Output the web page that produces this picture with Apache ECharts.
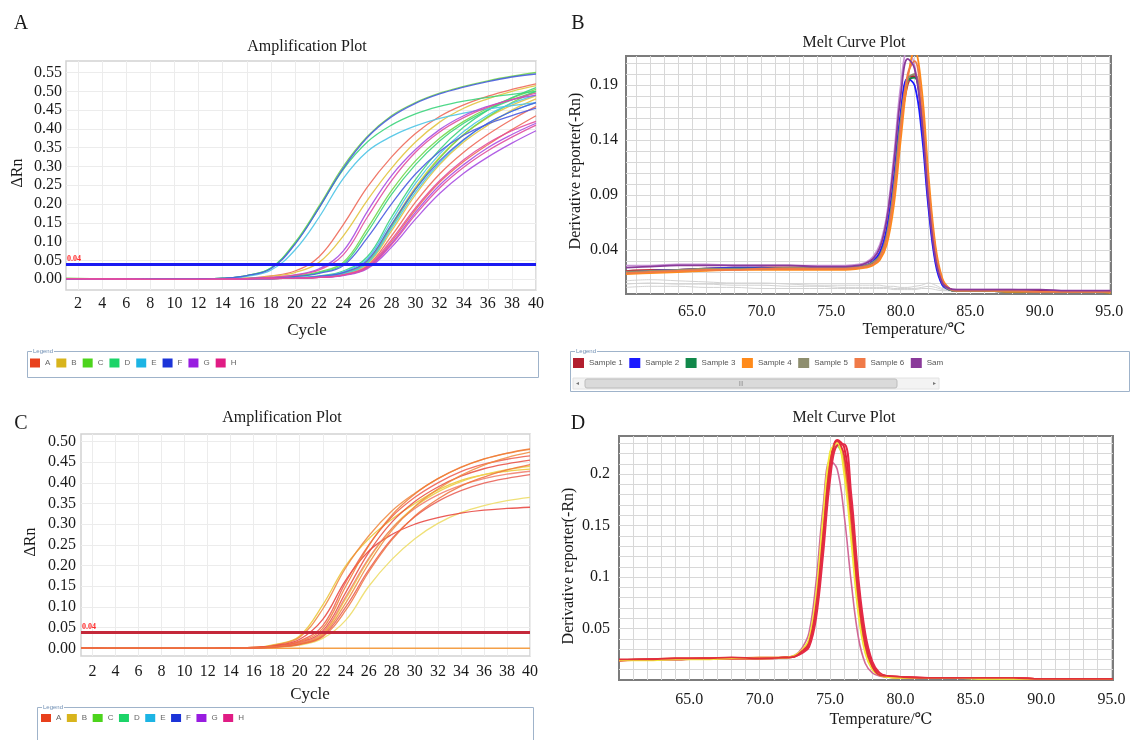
<!DOCTYPE html>
<html>
<head>
<meta charset="utf-8">
<title>Amplification and melt curve plots</title>
<script src="https://cdn.jsdelivr.net/npm/echarts@6/dist/echarts.min.js"></script>
<style>
  html, body { margin: 0; padding: 0; background: #fff; }
  #chart { width: 1131px; height: 740px; }
</style>
</head>
<body>
<div id="chart"></div>
<script>
// ---- data ----
const CYCLES = [1, 4, 8, 12, 14, 16, 18, 20, 22, 24, 26, 28, 30, 32, 34, 36, 38, 40];
const CYCLE_LABELS = [2, 4, 6, 8, 10, 12, 14, 16, 18, 20, 22, 24, 26, 28, 30, 32, 34, 36, 38, 40];
const DRN_LABELS_A = [0, 0.05, 0.1, 0.15, 0.2, 0.25, 0.3, 0.35, 0.4, 0.45, 0.5, 0.55];
const DRN_LABELS_C = [0, 0.05, 0.1, 0.15, 0.2, 0.25, 0.3, 0.35, 0.4, 0.45, 0.5];
const TEMP_LABELS = [65, 70, 75, 80, 85, 90, 95];
const DERIV_LABELS_B = [0.04, 0.09, 0.14, 0.19];
const DERIV_LABELS_D = [0.05, 0.1, 0.15, 0.2];
const THRESHOLD_A = 0.04;
const THRESHOLD_C = 0.04;
const WELLS = ['A', 'B', 'C', 'D', 'E', 'F', 'G', 'H'];
const SAMPLES = ['Sample 1', 'Sample 2', 'Sample 3', 'Sample 4', 'Sample 5', 'Sample 6', 'Sample 7'];

// panel A: delta Rn per well, three wells for each letter, read at CYCLES
const A_WELL_A = [
  [.002, .001, .000, .000, .001, .003, .009, .022, .060, .145, .245, .325, .388, .433, .464, .487, .505, .520],
  [.002, .001, .000, .000, .000, .001, .002, .003, .006, .013, .036, .115, .205, .280, .338, .385, .425, .460],
  [.002, .001, .000, .000, .000, .001, .002, .003, .005, .012, .032, .100, .185, .258, .313, .358, .398, .435]
];
const A_WELL_B = [
  [.002, .001, .000, .000, .001, .003, .008, .018, .045, .115, .210, .295, .365, .418, .455, .480, .500, .515],
  [.002, .001, .000, .000, .000, .001, .002, .003, .007, .017, .048, .145, .245, .325, .385, .430, .463, .488],
  [.002, .001, .000, .000, .000, .001, .002, .003, .006, .014, .040, .128, .225, .305, .365, .410, .450, .480]
];
const A_WELL_C = [
  [.003, .001, .000, .001, .003, .010, .030, .098, .195, .300, .380, .435, .470, .495, .513, .528, .540, .550],
  [.002, .001, .000, .000, .000, .002, .004, .009, .020, .045, .135, .235, .315, .375, .420, .455, .482, .505],
  [.002, .001, .000, .000, .000, .001, .002, .003, .007, .016, .045, .140, .240, .322, .385, .432, .470, .500]
];
const A_WELL_D = [
  [.002, .001, .000, .001, .003, .010, .030, .095, .190, .292, .365, .410, .440, .460, .474, .484, .492, .500],
  [.002, .001, .000, .000, .000, .002, .004, .008, .018, .040, .125, .225, .305, .368, .415, .450, .477, .500],
  [.002, .001, .000, .000, .000, .001, .002, .004, .009, .022, .060, .165, .265, .345, .405, .450, .483, .510]
];
const A_WELL_E = [
  [.002, .001, .000, .001, .002, .008, .024, .078, .165, .268, .340, .380, .408, .428, .442, .453, .462, .470],
  [.002, .001, .000, .000, .000, .001, .002, .004, .008, .020, .055, .155, .255, .333, .393, .437, .468, .490],
  [.002, .001, .000, .000, .000, .001, .002, .003, .007, .015, .043, .135, .232, .310, .370, .415, .447, .470]
];
const A_WELL_F = [
  [.002, .001, .000, .001, .003, .010, .028, .093, .190, .295, .377, .432, .468, .493, .511, .526, .538, .546],
  [.002, .001, .000, .000, .000, .002, .004, .007, .016, .036, .110, .200, .280, .340, .383, .413, .435, .455],
  [.002, .001, .000, .000, .000, .001, .002, .003, .008, .018, .050, .145, .240, .315, .372, .415, .447, .470]
];
const A_WELL_G = [
  [.002, .001, .000, .000, .001, .002, .005, .012, .028, .075, .180, .275, .345, .398, .435, .460, .478, .490],
  [.002, .001, .000, .000, .000, .001, .002, .003, .005, .011, .031, .095, .178, .250, .305, .350, .385, .415],
  [.002, .001, .000, .000, .000, .001, .002, .003, .005, .010, .028, .085, .160, .228, .282, .325, .362, .395]
];
const A_WELL_H = [
  [.002, .001, .000, .000, .001, .002, .005, .011, .025, .065, .165, .262, .338, .392, .430, .458, .478, .495],
  [.002, .001, .000, .000, .000, .001, .002, .003, .005, .012, .034, .105, .190, .262, .318, .362, .395, .420],
  [.002, .001, .000, .000, .000, .001, .002, .003, .005, .011, .030, .092, .172, .243, .298, .342, .378, .410]
];

// panel C: delta Rn, wells A (red/orange) and B (yellow), read at CYCLES
const C_WELL_A = [
  [.001, .000, .000, .000, .001, .002, .009, .027, .095, .195, .272, .332, .375, .410, .437, .457, .471, .481],
  [.001, .000, .000, .000, .001, .002, .007, .022, .070, .165, .235, .275, .300, .316, .327, .334, .338, .341],
  [.001, .000, .000, .000, .001, .002, .006, .018, .055, .160, .250, .318, .365, .400, .427, .445, .457, .465],
  [.001, .000, .000, .000, .001, .001, .005, .016, .048, .150, .248, .322, .373, .410, .438, .458, .472, .482],
  [.001, .000, .000, .000, .000, .001, .005, .014, .042, .135, .232, .305, .355, .390, .416, .434, .446, .455],
  [.001, .000, .000, .000, .000, .001, .004, .013, .038, .125, .218, .290, .338, .371, .394, .410, .421, .428],
  [.001, .000, .000, .000, .000, .001, .004, .011, .033, .110, .205, .285, .343, .385, .418, .443, .461, .474],
  [.001, .000, .000, .000, .000, .001, .003, .010, .030, .100, .190, .265, .318, .355, .381, .399, .411, .420],
  [.001, .000, .000, .000, .000, .001, .003, .009, .028, .092, .185, .262, .320, .361, .392, .414, .431, .444]
];
const C_WELL_B = [
  [.001, .000, .000, .000, .001, .002, .010, .030, .105, .200, .265, .312, .350, .383, .406, .420, .428, .433],
  [.001, .000, .000, .000, .000, .001, .004, .012, .036, .120, .215, .290, .342, .378, .403, .420, .432, .440],
  [.001, .000, .000, .000, .000, .001, .003, .008, .024, .068, .150, .215, .265, .302, .328, .345, .357, .365]
];
const C_NTC = [.001, .000, .000, .000, .000, .000, .000, .000, .000, .000, .000, .000, .000, .000, .000, .000, .000, .000];

// panel B: derivative reporter, read at TEMPS_B
const TEMPS_B = [60.25, 62, 64, 66, 68, 70, 72, 74, 76, 77, 77.5, 78, 78.5, 79, 79.5, 80, 80.5, 81, 81.5, 82, 82.5, 83, 83.5, 84, 86, 88, 90, 92, 94, 95.1];
const B_SAMPLE_1 = [.020, .021, .022, .023, .023, .024, .024, .024, .024, .025, .026, .029, .036, .056, .100, .160, .197, .198, .160, .088, .034, .010, .004, .003, .003, .003, .003, .002, .002, .002];
const B_SAMPLE_2 = [.019, .021, .022, .023, .024, .024, .023, .024, .024, .025, .026, .030, .038, .060, .105, .165, .196, .190, .148, .078, .028, .008, .004, .003, .003, .002, .002, .002, .002, .002];
const B_SAMPLE_3 = [.019, .020, .021, .022, .023, .023, .023, .023, .023, .024, .025, .028, .034, .052, .094, .155, .194, .197, .162, .090, .036, .011, .004, .003, .003, .002, .002, .002, .002, .001];
const B_SAMPLE_4 = [.018, .019, .020, .021, .022, .022, .022, .022, .022, .023, .024, .026, .031, .045, .080, .140, .195, .222, .188, .108, .044, .014, .005, .003, .003, .002, .002, .002, .002, .001];
const B_SAMPLE_5 = [.020, .021, .022, .023, .023, .023, .024, .024, .024, .025, .026, .029, .035, .054, .097, .158, .196, .200, .163, .090, .035, .010, .004, .003, .003, .003, .002, .002, .002, .002];
const B_SAMPLE_6 = [.019, .020, .021, .022, .022, .023, .023, .023, .023, .024, .025, .027, .033, .050, .090, .150, .200, .212, .175, .098, .040, .012, .005, .003, .003, .003, .002, .002, .002, .002];
const B_SAMPLE_7 = [.024, .025, .026, .026, .026, .026, .026, .025, .025, .026, .028, .032, .042, .068, .118, .180, .214, .205, .160, .085, .032, .010, .005, .004, .004, .004, .004, .003, .003, .003];
const B_SAMPLE_8 = [.026, .026, .027, .027, .026, .026, .026, .026, .026, .027, .029, .034, .045, .072, .125, .190, .222, .208, .158, .080, .030, .009, .005, .004, .004, .004, .003, .003, .003, .003];
const B_SAMPLE_9 = [.021, .022, .022, .023, .024, .024, .024, .024, .024, .025, .026, .028, .034, .052, .092, .150, .190, .200, .170, .100, .040, .012, .005, .003, .003, .003, .002, .002, .002, .002];
const B_EMPTY_1 = [.012, .013, .012, .011, .010, .010, .009, .008, .008, .008, .008, .008, .008, .007, .007, .006, .006, .007, .008, .010, .008, .005, .004, .004, .004, .004, .003, .003, .003, .003];
const B_EMPTY_2 = [.009, .010, .009, .009, .008, .008, .007, .007, .006, .006, .006, .006, .006, .006, .005, .005, .005, .005, .006, .007, .006, .004, .003, .003, .003, .003, .003, .003, .003, .002];
const B_EMPTY_3 = [.006, .007, .007, .006, .006, .005, .005, .005, .005, .005, .005, .005, .005, .005, .004, .004, .004, .004, .005, .005, .004, .003, .003, .003, .003, .003, .002, .002, .002, .002];

// panel D: derivative reporter, read at TEMPS_D
const TEMPS_D = [60, 62, 64, 66, 68, 70, 72, 72.5, 73, 73.5, 74, 74.5, 75, 75.5, 76, 76.5, 77, 77.5, 78, 78.5, 79, 80, 82, 84, 86, 88, 90, 92, 94, 95.1];
const D_MAUVE = [.019, .020, .020, .021, .021, .021, .022, .024, .031, .046, .095, .168, .213, .205, .160, .095, .042, .016, .007, .004, .003, .002, .002, .002, .002, .001, .001, .001, .001, .001];
const D_YELLOW = [.019, .019, .020, .020, .021, .021, .022, .024, .029, .040, .082, .158, .222, .230, .200, .135, .065, .026, .010, .005, .003, .002, .002, .002, .001, .001, .001, .001, .001, .001];
const D_GREEN = [.019, .020, .020, .021, .021, .021, .022, .023, .028, .037, .074, .145, .210, .227, .212, .152, .076, .031, .012, .005, .003, .002, .002, .002, .001, .001, .001, .001, .001, .001];
const D_ORANGE = [.019, .020, .021, .021, .021, .022, .022, .023, .028, .038, .078, .150, .215, .230, .208, .145, .070, .028, .011, .005, .003, .002, .002, .002, .002, .002, .001, .001, .001, .001];
const D_RED_1 = [.019, .020, .020, .021, .021, .021, .022, .023, .027, .034, .066, .132, .205, .233, .226, .172, .092, .040, .016, .006, .004, .003, .002, .002, .002, .002, .001, .001, .001, .001];
const D_RED_2 = [.019, .020, .021, .021, .021, .021, .022, .023, .026, .032, .060, .122, .195, .228, .229, .180, .100, .045, .018, .007, .004, .003, .002, .002, .002, .002, .001, .001, .001, .001];
const D_RED_3 = [.020, .020, .021, .021, .022, .021, .022, .023, .028, .036, .072, .140, .210, .232, .218, .160, .082, .034, .013, .005, .004, .003, .002, .002, .002, .002, .001, .001, .001, .001];

// ---- styling ----
const FONT = "'Liberation Serif', 'DejaVu Serif', 'Noto Sans CJK SC', serif";
const SMALL_FONT = "'Liberation Sans', 'DejaVu Sans', sans-serif";
const WELL_LINE = ['#ee6a5a', '#e2c440', '#72d84a', '#3cd47c', '#4cc4e6', '#4a5ce0', '#a84ee2', '#e24e9e'];
const WELL_KEY = ['#e8401c', '#d8b41c', '#4cd41c', '#1cd468', '#1cb4e4', '#1c34d8', '#981ce0', '#e01c84'];
const SAMPLE_COLORS = ['#b21e2e', '#1a1aff', '#11884a', '#ff8a1a', '#8e8e6e', '#f07a48', '#8a3a9a'];

function curve(name, xs, ys, color, idx, width, opacity) {
  return {
    type: 'line', name: name, xAxisIndex: idx, yAxisIndex: idx,
    data: xs.map((x, i) => [x, ys[i]]),
    showSymbol: false, symbol: 'none', smooth: 0.4,
    lineStyle: { color: color, width: width, opacity: opacity },
    itemStyle: { color: color },
    silent: true, animation: false
  };
}

function axis(gridIndex, min, max, gridAt, labelsAt, fmt, margin, splitColor) {
  return {
    type: 'value', gridIndex: gridIndex, min: min, max: max,
    axisLine: { show: false },
    axisTick: { show: false, customValues: gridAt },
    axisLabel: { customValues: labelsAt, formatter: fmt, margin: margin,
      fontFamily: FONT, fontSize: 16, color: '#1a1a1a' },
    splitLine: { show: true, lineStyle: { color: splitColor, width: 1 } }
  };
}

// grid-only ticks (no labels) for the melt plots
const TEMP_GRID = [];
for (let t = 61; t <= 95; t++) TEMP_GRID.push(t);
const DERIV_GRID_B = [];
for (let v = 1; v <= 21; v++) DERIV_GRID_B.push(v / 100);
const DERIV_GRID_D = [];
for (let v = 1; v <= 23; v++) DERIV_GRID_D.push(v / 100);

const fix2 = v => v.toFixed(2);
const fix1 = v => v.toFixed(1);
const plain = v => String(v);
const short = v => String(+v.toFixed(2));

const series = [];

// panel A curves
const wellsA = [A_WELL_A, A_WELL_B, A_WELL_C, A_WELL_D, A_WELL_E, A_WELL_F, A_WELL_G, A_WELL_H];
wellsA.forEach((rows, w) => {
  rows.forEach(ys => series.push(curve(WELLS[w], CYCLES, ys, WELL_LINE[w], 0, 1.3, 0.9)));
});
series.push({
  type: 'line', name: 'threshold A', xAxisIndex: 0, yAxisIndex: 0, data: [], z: 10,
  markLine: {
    silent: true, symbol: 'none', animation: false,
    data: [{ yAxis: THRESHOLD_A }],
    lineStyle: { color: '#1a1af2', width: 3, type: 'solid' },
    label: { show: true, position: 'insideStartTop', formatter: THRESHOLD_A.toFixed(2),
      distance: 1, color: '#ff2a2a', fontSize: 8, fontWeight: 'bold', fontFamily: FONT }
  }
});

// panel B curves
[B_EMPTY_1, B_EMPTY_2, B_EMPTY_3].forEach((ys, i) =>
  series.push(curve('empty ' + (i + 1), TEMPS_B, ys, '#d2d2d2', 1, 1, 1)));
series.push(curve('Sample 8', TEMPS_B, B_SAMPLE_8, '#c894d6', 1, 1.6, 1));
series.push(curve('Sample 9', TEMPS_B, B_SAMPLE_9, '#c03a44', 1, 1.6, 1));
[B_SAMPLE_1, B_SAMPLE_2, B_SAMPLE_3, B_SAMPLE_4, B_SAMPLE_5, B_SAMPLE_6, B_SAMPLE_7].forEach((ys, i) =>
  series.push(curve(SAMPLES[i], TEMPS_B, ys, SAMPLE_COLORS[i], 1, 1.8, 1)));

// panel C curves
series.push(curve('NTC', CYCLES, C_NTC, '#f4a048', 2, 1.6, 1));
const C_A_COLORS = ['#f0863c', '#e8403a', '#ee5a4a', '#f07a34', '#e84a40', '#f07a6a', '#f08a3c', '#e85a50', '#f0703c'];
const C_B_COLORS = ['#eccb48', '#eed050', '#eede70'];
C_WELL_B.forEach((ys, i) => series.push(curve('B', CYCLES, ys, C_B_COLORS[i], 2, 1.3, 0.95)));
C_WELL_A.forEach((ys, i) => series.push(curve('A', CYCLES, ys, C_A_COLORS[i], 2, 1.3, 0.85)));
series.push({
  type: 'line', name: 'threshold C', xAxisIndex: 2, yAxisIndex: 2, data: [], z: 10,
  markLine: {
    silent: true, symbol: 'none', animation: false,
    data: [{ yAxis: THRESHOLD_C }],
    lineStyle: { color: '#c4283a', width: 3, type: 'solid' },
    label: { show: true, position: 'insideStartTop', formatter: THRESHOLD_C.toFixed(2),
      distance: 1, color: '#ff2a2a', fontSize: 8, fontWeight: 'bold', fontFamily: FONT }
  }
});

// panel D curves
series.push(curve('D mauve', TEMPS_D, D_MAUVE, '#d06a98', 3, 1.6, 1));
series.push(curve('D green', TEMPS_D, D_GREEN, '#a8d860', 3, 1.8, 1));
series.push(curve('D orange', TEMPS_D, D_ORANGE, '#f08a30', 3, 1.8, 1));
series.push(curve('D red 1', TEMPS_D, D_RED_1, '#e8203c', 3, 2, 1));
series.push(curve('D red 2', TEMPS_D, D_RED_2, '#e42a48', 3, 2, 1));
series.push(curve('D yellow', TEMPS_D, D_YELLOW, '#f2ea3a', 3, 1.8, 1));
series.push(curve('D red 3', TEMPS_D, D_RED_3, '#e0303a', 3, 1.8, 1));

function label(text, x, y, size, rotate) {
  return {
    type: 'text', x: x, y: y, rotation: rotate ? Math.PI / 2 : 0, silent: true,
    style: { text: text, fontFamily: FONT, fontSize: size, fill: '#1a1a1a',
      align: 'center', verticalAlign: 'middle', textAlign: 'center', textVerticalAlign: 'middle' }
  };
}
function box(x, y, w, h) {
  return { type: 'rect', silent: true, shape: { x: x, y: y, width: w, height: h },
    style: { fill: 'none', stroke: '#9fb3ca', lineWidth: 1 } };
}
function caption(x, y) {
  return { type: 'text', x: x, y: y, silent: true,
    style: { text: 'Legend', fontFamily: SMALL_FONT, fontSize: 6, fill: '#6f8fb4',
      backgroundColor: '#fff', padding: [0, 1], verticalAlign: 'middle', textVerticalAlign: 'middle' } };
}

const option = {
  animation: false,
  backgroundColor: '#fff',
  textStyle: { fontFamily: FONT },
  grid: [
    { left: 66, top: 61, width: 470, height: 229, show: true, borderColor: '#d2d2d2', borderWidth: 1.5 },
    { left: 626, top: 56, width: 485, height: 238, show: true, borderColor: '#7c7c7c', borderWidth: 2 },
    { left: 81, top: 434, width: 449, height: 222, show: true, borderColor: '#d2d2d2', borderWidth: 1.5 },
    { left: 619, top: 436, width: 494, height: 244, show: true, borderColor: '#7c7c7c', borderWidth: 2 }
  ],
  xAxis: [
    axis(0, 1, 40, CYCLE_LABELS, CYCLE_LABELS, plain, 6, '#ececec'),
    axis(1, 60.25, 95.12, TEMP_GRID, TEMP_LABELS, fix1, 10, '#d8d8d8'),
    axis(2, 1, 40, CYCLE_LABELS, CYCLE_LABELS, plain, 8, '#ececec'),
    axis(3, 60, 95.1, TEMP_GRID, TEMP_LABELS, fix1, 12, '#d8d8d8')
  ],
  yAxis: [
    axis(0, -0.0285, 0.5806, DRN_LABELS_A, DRN_LABELS_A, fix2, 4, '#ececec'),
    axis(1, 0, 0.2166, DERIV_GRID_B, DERIV_LABELS_B, fix2, 8, '#d8d8d8'),
    axis(2, -0.0186, 0.518, DRN_LABELS_C, DRN_LABELS_C, fix2, 5, '#ececec'),
    axis(3, 0, 0.237, DERIV_GRID_D, DERIV_LABELS_D, short, 9, '#d8d8d8')
  ],
  legend: [
    { data: WELLS.map((w, i) => ({ name: w, itemStyle: { color: WELL_KEY[i] } })),
      left: 30, top: 358.5, padding: 0, itemWidth: 10, itemHeight: 9, itemGap: 6, icon: 'rect',
      selectedMode: false, textStyle: { fontSize: 8, color: '#666', fontFamily: SMALL_FONT } },
    { data: SAMPLES.map((s, i) => ({ name: s, itemStyle: { color: SAMPLE_COLORS[i] } })),
      left: 573, top: 358, padding: 0, itemWidth: 11, itemHeight: 10, itemGap: 6.5, icon: 'rect',
      selectedMode: false, formatter: n => (n === 'Sample 7' ? 'Sam' : n),
      textStyle: { fontSize: 8, color: '#555', fontFamily: SMALL_FONT } },
    { data: WELLS.map((w, i) => ({ name: w, itemStyle: { color: WELL_KEY[i] } })),
      left: 41, top: 714, padding: 0, itemWidth: 10, itemHeight: 8, itemGap: 5.5, icon: 'rect',
      selectedMode: false, textStyle: { fontSize: 8, color: '#666', fontFamily: SMALL_FONT } }
  ],
  graphic: [
    label('A', 21, 24, 20), label('B', 578, 24, 20), label('C', 21, 424, 20), label('D', 578, 424, 20),
    label('Amplification Plot', 307, 47, 16), label('Melt Curve Plot', 854, 43, 16),
    label('Amplification Plot', 282, 418, 16), label('Melt Curve Plot', 844, 418, 16),
    label('\u0394Rn', 18, 173, 16, true), label('Cycle', 307, 331, 17),
    label('Derivative reporter(-Rn)', 576, 171, 16, true), label('Temperature/\u2103', 914, 330, 16),
    label('\u0394Rn', 31, 542, 16, true), label('Cycle', 310, 695, 17),
    label('Derivative reporter(-Rn)', 569, 566, 16, true), label('Temperature/\u2103', 881, 720, 16),
    box(27.5, 351.5, 511, 26), caption(32, 351.5),
    box(570.5, 351.5, 559, 40), caption(575, 351.5),
    box(37.5, 707.5, 496, 40), caption(42, 707.5),
    // scrollbar under the sample legend
    { type: 'rect', silent: true, shape: { x: 573, y: 378, width: 366, height: 11 },
      style: { fill: '#f3f3f3', stroke: '#e2e2e2', lineWidth: 1 } },
    { type: 'rect', silent: true, shape: { x: 585, y: 379, width: 312, height: 9, r: 2 },
      style: { fill: '#dadada', stroke: '#bdbdbd', lineWidth: 1 } },
    { type: 'text', x: 741, y: 383.5, silent: true,
      style: { text: '|||', fontSize: 6, fill: '#888', align: 'center', verticalAlign: 'middle',
        textAlign: 'center', textVerticalAlign: 'middle' } },
    { type: 'text', x: 577, y: 383.5, silent: true,
      style: { text: '\u25C2', fontSize: 6, fill: '#777', align: 'center', verticalAlign: 'middle',
        textAlign: 'center', textVerticalAlign: 'middle' } },
    { type: 'text', x: 934, y: 383.5, silent: true,
      style: { text: '\u25B8', fontSize: 6, fill: '#777', align: 'center', verticalAlign: 'middle',
        textAlign: 'center', textVerticalAlign: 'middle' } }
  ],
  series: series
};

const chart = echarts.init(document.getElementById('chart'), null, { renderer: 'canvas' });
chart.setOption(option);
</script>
</body>
</html>
